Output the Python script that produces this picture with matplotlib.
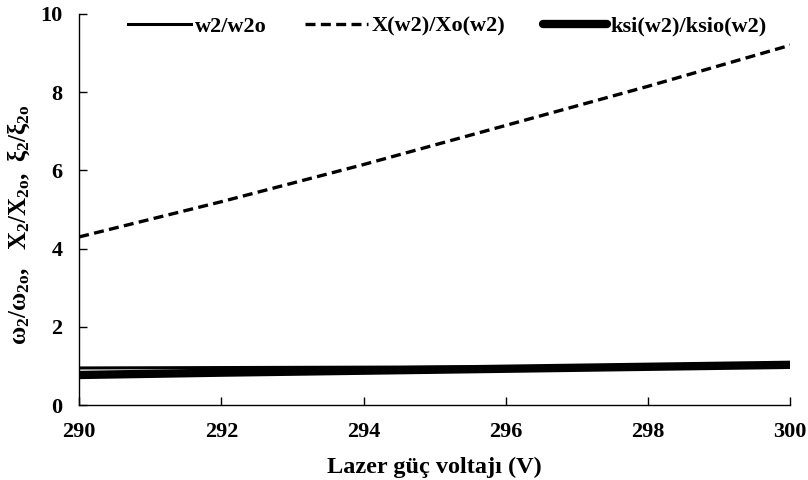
import matplotlib
matplotlib.use("Agg")
import matplotlib.pyplot as plt

plt.rcParams['font.family'] = ['Liberation Serif', 'DejaVu Serif']
plt.rcParams['font.weight'] = 'bold'
plt.rcParams['mathtext.fontset'] = 'custom'
plt.rcParams['mathtext.rm'] = 'Liberation Serif:bold'
plt.rcParams['mathtext.it'] = 'Liberation Serif:bold'
plt.rcParams['mathtext.bf'] = 'Liberation Serif:bold'

voltage = [290, 292, 294, 296, 298, 300]
w2_ratio = [0.95, 0.96, 0.97, 0.98, 0.99, 1.00]
x_ratio = [4.30, 5.20, 6.15, 7.15, 8.15, 9.20]
ksi_ratio = [0.77, 0.83, 0.88, 0.93, 0.98, 1.03]

fig = plt.figure(figsize=(8.08, 4.8), dpi=100)
ax = fig.add_axes([0.098, 0.156, 0.880, 0.815])

ax.plot(voltage, w2_ratio, color='black', lw=2.2, label='w2/w2o')
ax.plot(voltage, x_ratio, color='black', lw=2.4, ls=(0, (3, 1.6)), label='X(w2)/Xo(w2)')
ax.plot(voltage, ksi_ratio, color='black', lw=6, solid_capstyle='round', label='ksi(w2)/ksio(w2)')

ax.set_xlim(290, 300)
ax.set_ylim(0, 10)
ax.set_xticks([290, 292, 294, 296, 298, 300])
ax.set_yticks([0, 2, 4, 6, 8, 10])
ax.tick_params(direction='in', labelsize=16, length=6, width=1)
ax.tick_params(axis='x', pad=12)
ax.tick_params(axis='y', pad=12)
for lab in ax.get_xticklabels() + ax.get_yticklabels():
    lab.set_fontweight('bold')

for s in ['top', 'right']:
    ax.spines[s].set_visible(False)
for s in ['left', 'bottom']:
    ax.spines[s].set_linewidth(1)

ax.set_xlabel('Lazer güç voltajı (V)', fontsize=17.5, fontweight='bold', labelpad=11)
ax.set_ylabel(r'$\omega_2/\omega_{2o},\ \ X_2/X_{2o},\ \xi_2/\xi_{2o}$', fontsize=18)
ax.yaxis.set_label_coords(-0.066, 0.46)

leg = ax.legend(loc='upper center', bbox_to_anchor=(0.518, 1.045), ncol=3, frameon=False,
                fontsize=16, handlelength=2.84, handletextpad=0.18, columnspacing=1.7)
for t in leg.get_texts():
    t.set_fontweight('bold')

fig.savefig('out.png', dpi=100)
